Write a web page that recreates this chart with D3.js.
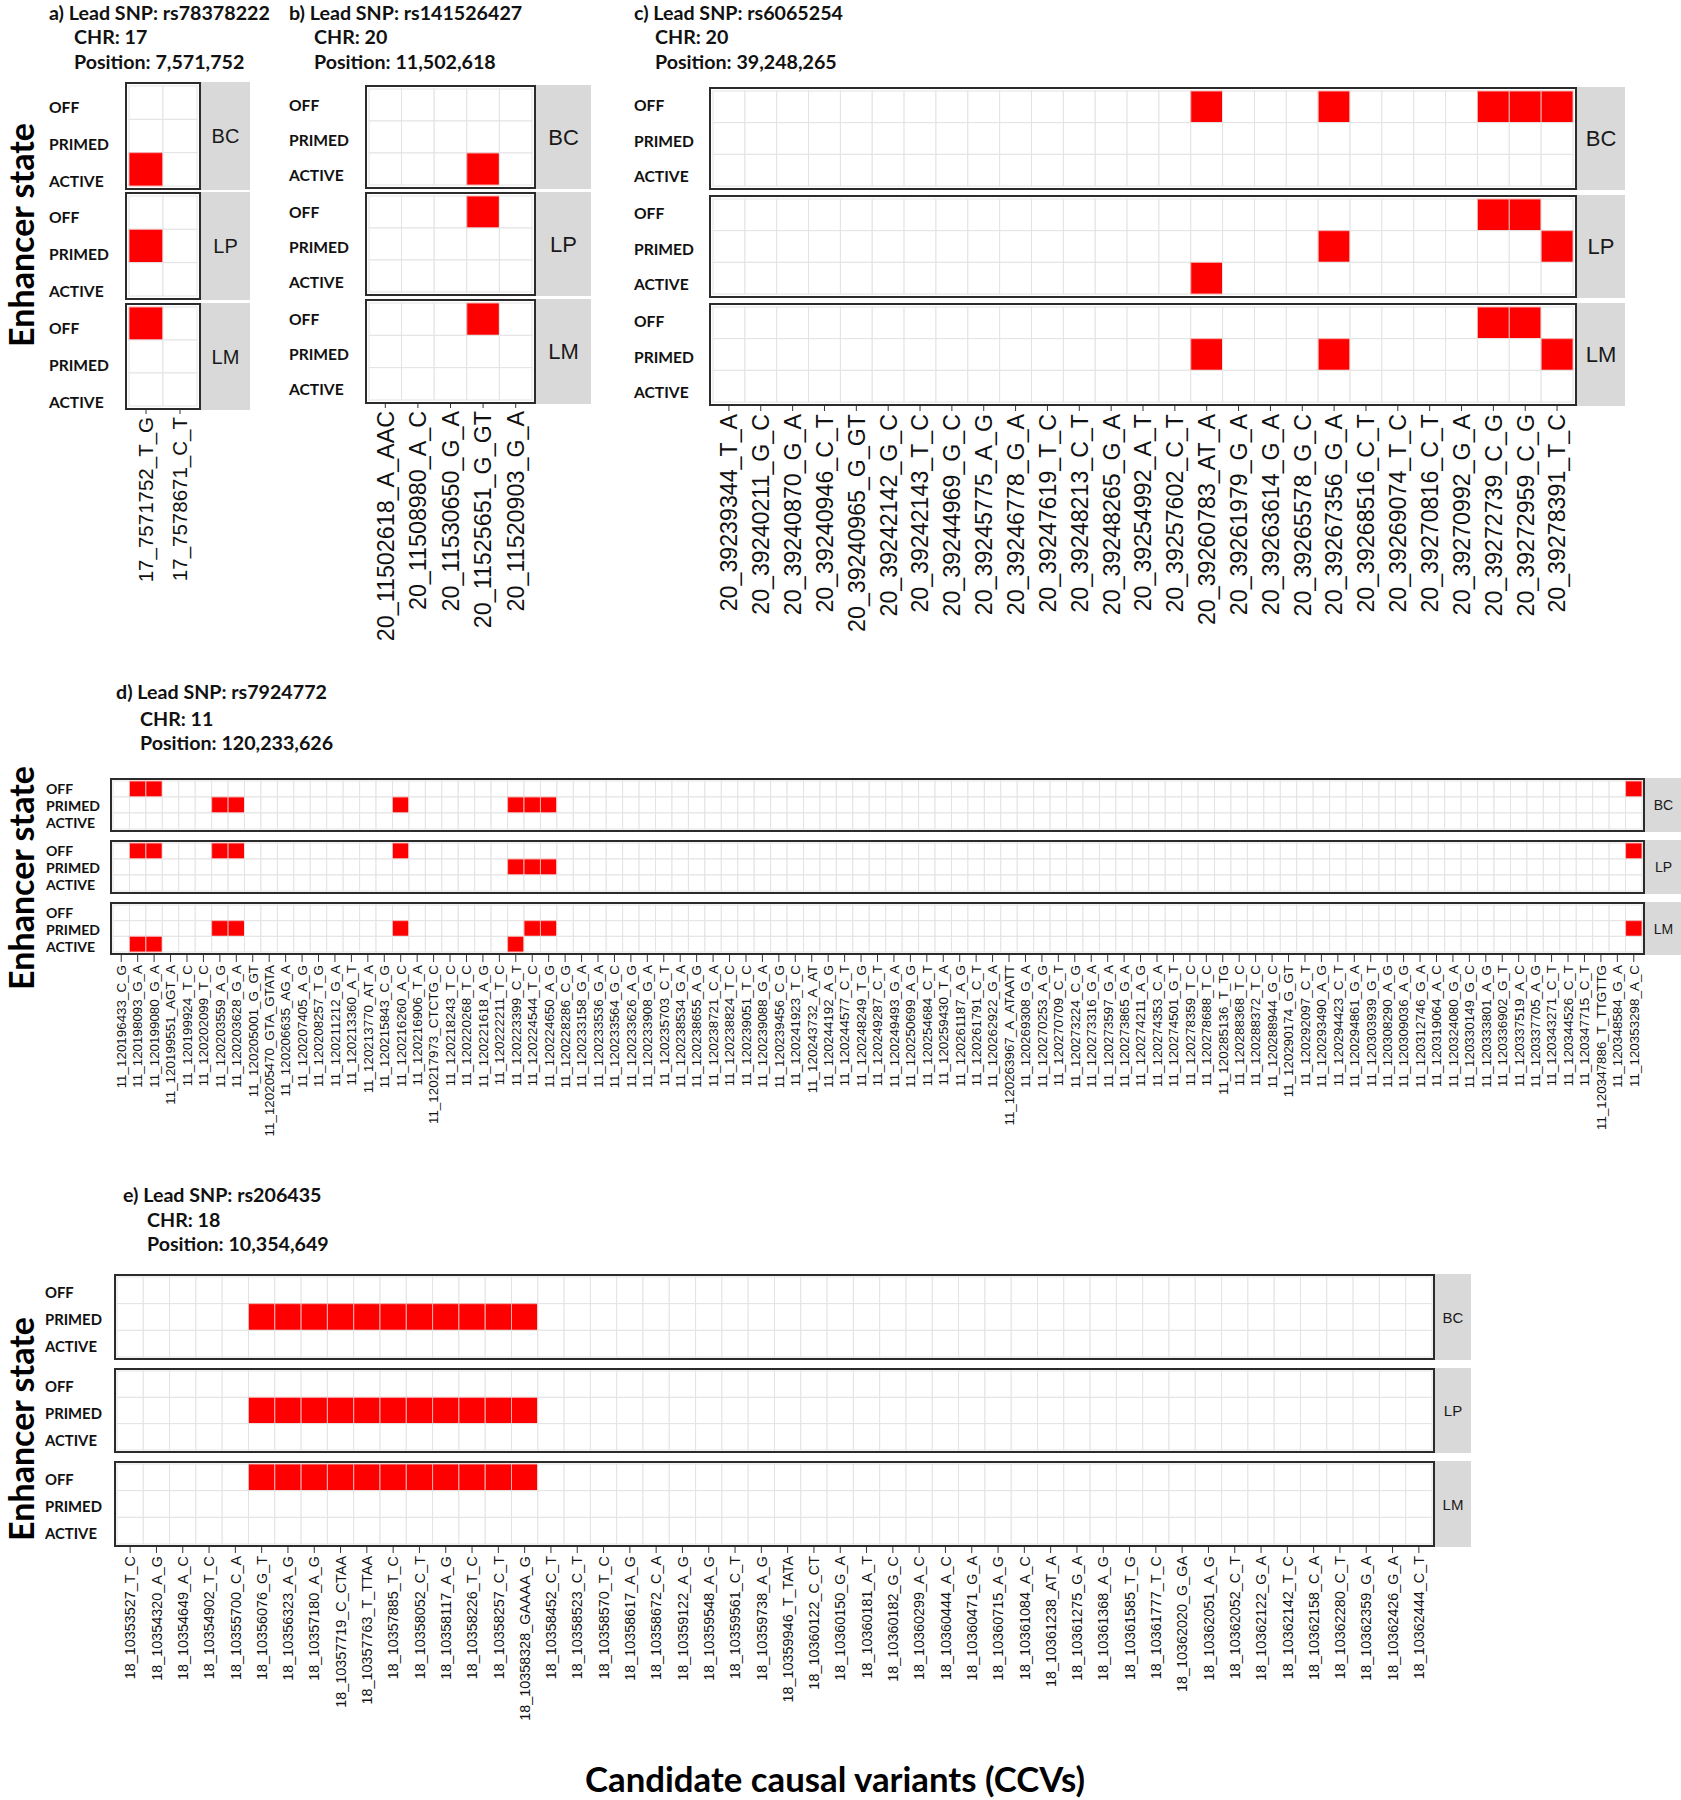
<!DOCTYPE html>
<html><head><meta charset="utf-8">
<script src="https://cdn.jsdelivr.net/npm/d3@7"></script>
<style>body{margin:0;background:#fff} svg{display:block}</style>
</head><body><svg id="fig" width="1681" height="1800"></svg>
<script>
// ---------------- DATA ----------------
const states = ["OFF", "PRIMED", "ACTIVE"];
const cellTypes = ["BC", "LP", "LM"];

// Panel a
const aTitle = ["a) Lead SNP: rs78378222", "CHR: 17", "Position: 7,571,752"];
const aVariants = ["17_7571752_T_G", "17_7578671_C_T"];
const aBC = [["17_7571752_T_G", "ACTIVE"]];
const aLP = [["17_7571752_T_G", "PRIMED"]];
const aLM = [["17_7571752_T_G", "OFF"]];

// Panel b
const bTitle = ["b) Lead SNP: rs141526427", "CHR: 20", "Position: 11,502,618"];
const bVariants = ["20_11502618_A_AAC", "20_11508980_A_C", "20_11530650_G_A", "20_11525651_G_GT", "20_11520903_G_A"];
const bBC = [["20_11525651_G_GT", "ACTIVE"]];
const bLP = [["20_11525651_G_GT", "OFF"]];
const bLM = [["20_11525651_G_GT", "OFF"]];

// Panel c
const cTitle = ["c) Lead SNP: rs6065254", "CHR: 20", "Position: 39,248,265"];
const cVariants = ["20_39239344_T_A", "20_39240211_G_C", "20_39240870_G_A", "20_39240946_C_T", "20_39240965_G_GT",
  "20_39242142_G_C", "20_39242143_T_C", "20_39244969_G_C", "20_39245775_A_G", "20_39246778_G_A", "20_39247619_T_C",
  "20_39248213_C_T", "20_39248265_G_A", "20_39254992_A_T", "20_39257602_C_T", "20_39260783_AT_A", "20_39261979_G_A",
  "20_39263614_G_A", "20_39265578_G_C", "20_39267356_G_A", "20_39268516_C_T", "20_39269074_T_C", "20_39270816_C_T",
  "20_39270992_G_A", "20_39272739_C_G", "20_39272959_C_G", "20_39278391_T_C"];
const cBC = [["20_39260783_AT_A", "OFF"], ["20_39267356_G_A", "OFF"], ["20_39272739_C_G", "OFF"], ["20_39272959_C_G", "OFF"], ["20_39278391_T_C", "OFF"]];
const cLP = [["20_39260783_AT_A", "ACTIVE"], ["20_39267356_G_A", "PRIMED"], ["20_39272739_C_G", "OFF"], ["20_39272959_C_G", "OFF"], ["20_39278391_T_C", "PRIMED"]];
const cLM = [["20_39260783_AT_A", "PRIMED"], ["20_39267356_G_A", "PRIMED"], ["20_39272739_C_G", "OFF"], ["20_39272959_C_G", "OFF"], ["20_39278391_T_C", "PRIMED"]];

// Panel d
const dTitle = ["d) Lead SNP: rs7924772", "CHR: 11", "Position: 120,233,626"];
const dVariants = ["11_120196433_C_G", "11_120198093_G_A", "11_120199080_G_A", "11_120199551_AGT_A", "11_120199924_T_C",
  "11_120202099_T_C", "11_120203559_A_G", "11_120203628_G_A", "11_120205001_G_GT", "11_120205470_GTA_GTATA",
  "11_120206635_AG_A", "11_120207405_A_G", "11_120208257_T_G", "11_120211212_G_A", "11_120213360_A_T",
  "11_120213770_AT_A", "11_120215843_C_G", "11_120216260_A_C", "11_120216906_T_A", "11_120217973_CTCTG_C",
  "11_120218243_T_C", "11_120220268_T_C", "11_120221618_A_G", "11_120222211_T_C", "11_120223399_C_T",
  "11_120224544_T_C", "11_120224650_A_G", "11_120228286_C_G", "11_120233158_G_A", "11_120233536_G_A",
  "11_120233564_G_C", "11_120233626_A_G", "11_120233908_G_A", "11_120235703_C_T", "11_120238534_G_A",
  "11_120238655_A_G", "11_120238721_C_A", "11_120238824_T_C", "11_120239051_T_C", "11_120239088_G_A",
  "11_120239456_C_G", "11_120241923_T_C", "11_120243732_A_AT", "11_120244192_A_G", "11_120244577_C_T",
  "11_120248249_T_G", "11_120249287_C_T", "11_120249493_G_A", "11_120250699_A_G", "11_120254684_C_T",
  "11_120259430_T_A", "11_120261187_A_G", "11_120261791_C_T", "11_120262922_G_A", "11_120263967_A_ATAATT",
  "11_120269308_G_A", "11_120270253_A_G", "11_120270709_C_T", "11_120273224_C_G", "11_120273316_G_A",
  "11_120273597_G_A", "11_120273865_G_A", "11_120274211_A_G", "11_120274353_C_A", "11_120274501_G_T",
  "11_120278359_T_C", "11_120278688_T_C", "11_120285136_T_TG", "11_120288368_T_C", "11_120288372_T_C",
  "11_120288944_G_C", "11_120290174_G_GT", "11_120292097_C_T", "11_120293490_A_G", "11_120294423_C_T",
  "11_120294861_G_A", "11_120303939_G_T", "11_120308290_A_G", "11_120309036_A_G", "11_120312746_G_A",
  "11_120319064_A_C", "11_120324080_G_A", "11_120330149_G_C", "11_120333801_A_G", "11_120336902_G_T",
  "11_120337519_A_C", "11_120337705_A_G", "11_120343271_C_T", "11_120344526_C_T", "11_120347715_C_T",
  "11_120347886_T_TTGTTG", "11_120348584_G_A", "11_120353298_A_C"];
const dBC = [["11_120198093_G_A", "OFF"], ["11_120199080_G_A", "OFF"], ["11_120203559_A_G", "PRIMED"], ["11_120203628_G_A", "PRIMED"],
  ["11_120216260_A_C", "PRIMED"], ["11_120223399_C_T", "PRIMED"], ["11_120224544_T_C", "PRIMED"], ["11_120224650_A_G", "PRIMED"],
  ["11_120353298_A_C", "OFF"]];
const dLP = [["11_120198093_G_A", "OFF"], ["11_120199080_G_A", "OFF"], ["11_120203559_A_G", "OFF"], ["11_120203628_G_A", "OFF"],
  ["11_120216260_A_C", "OFF"], ["11_120223399_C_T", "PRIMED"], ["11_120224544_T_C", "PRIMED"], ["11_120224650_A_G", "PRIMED"],
  ["11_120353298_A_C", "OFF"]];
const dLM = [["11_120198093_G_A", "ACTIVE"], ["11_120199080_G_A", "ACTIVE"], ["11_120203559_A_G", "PRIMED"], ["11_120203628_G_A", "PRIMED"],
  ["11_120216260_A_C", "PRIMED"], ["11_120223399_C_T", "ACTIVE"], ["11_120224544_T_C", "PRIMED"], ["11_120224650_A_G", "PRIMED"],
  ["11_120353298_A_C", "PRIMED"]];

// Panel e
const eTitle = ["e) Lead SNP: rs206435", "CHR: 18", "Position: 10,354,649"];
const eVariants = ["18_10353527_T_C", "18_10354320_A_G", "18_10354649_A_C", "18_10354902_T_C", "18_10355700_C_A",
  "18_10356076_G_T", "18_10356323_A_G", "18_10357180_A_G", "18_10357719_C_CTAA", "18_10357763_T_TTAA",
  "18_10357885_T_C", "18_10358052_C_T", "18_10358117_A_G", "18_10358226_T_C", "18_10358257_C_T",
  "18_10358328_GAAAA_G", "18_10358452_C_T", "18_10358523_C_T", "18_10358570_T_C", "18_10358617_A_G",
  "18_10358672_C_A", "18_10359122_A_G", "18_10359548_A_G", "18_10359561_C_T", "18_10359738_A_G",
  "18_10359946_T_TATA", "18_10360122_C_CT", "18_10360150_G_A", "18_10360181_A_T", "18_10360182_G_C",
  "18_10360299_A_C", "18_10360444_A_C", "18_10360471_G_A", "18_10360715_A_G", "18_10361084_A_C",
  "18_10361238_AT_A", "18_10361275_G_A", "18_10361368_A_G", "18_10361585_T_G", "18_10361777_T_C",
  "18_10362020_G_GA", "18_10362051_A_G", "18_10362052_C_T", "18_10362122_G_A", "18_10362142_T_C",
  "18_10362158_C_A", "18_10362280_C_T", "18_10362359_G_A", "18_10362426_G_A", "18_10362444_C_T"];
const eActiveVariants = ["18_10356076_G_T", "18_10356323_A_G", "18_10357180_A_G", "18_10357719_C_CTAA", "18_10357763_T_TTAA",
  "18_10357885_T_C", "18_10358052_C_T", "18_10358117_A_G", "18_10358226_T_C", "18_10358257_C_T", "18_10358328_GAAAA_G"];
const eBC = eActiveVariants.map(v => [v, "PRIMED"]);
const eLP = eActiveVariants.map(v => [v, "PRIMED"]);
const eLM = eActiveVariants.map(v => [v, "OFF"]);

const yTitle = "Enhancer state";
const xTitle = "Candidate causal variants (CCVs)";

// ---------------- LAYOUT ----------------
const panels = [
  { title: aTitle, variants: aVariants, data: [aBC, aLP, aLM], x0: 126, x1: 200,
    facets: [[83, 189], [193, 299], [304, 409]], stripW: 49, stripFont: 20, tickFont: 20.5, inset: 3,
    titleX: 49, titleY: [12, 36, 61], indent: 25, rowX: 49, rowFirst: 24, rowStep: 37, labGap: 7 },
  { title: bTitle, variants: bVariants, data: [bBC, bLP, bLM], x0: 366, x1: 535,
    facets: [[86, 188], [193, 295], [300, 403]], stripW: 55, stripFont: 22, tickFont: 23.3, inset: 3,
    titleX: 289, titleY: [12, 36, 61], indent: 25, rowX: 289, rowFirst: 19, rowStep: 35, labGap: 7 },
  { title: cTitle, variants: cVariants, data: [cBC, cLP, cLM], x0: 710, x1: 1576,
    facets: [[88, 189], [196, 297], [304, 405]], stripW: 48, stripFont: 22, tickFont: 23.2, inset: 3,
    titleX: 634, titleY: [12, 36, 61], indent: 21, rowX: 634, rowFirst: 17, rowStep: 35.5, labGap: 8 },
  { title: dTitle, variants: dVariants, data: [dBC, dLP, dLM], x0: 111, x1: 1644,
    facets: [[779, 831], [841, 893], [903, 954]], stripW: 37, stripFont: 14, tickFont: 13.4, inset: 2,
    titleX: 116, titleY: [691, 718, 742], indent: 24, rowX: 46, rowFirst: 9, rowStep: 17, labGap: 10, rowFontScale: 0.9 },
  { title: eTitle, variants: eVariants, data: [eBC, eLP, eLM], x0: 115, x1: 1434,
    facets: [[1275, 1359], [1369, 1452], [1462, 1546]], stripW: 36, stripFont: 15, tickFont: 14.4, inset: 2,
    titleX: 123, titleY: [1194, 1219, 1243], indent: 24, rowX: 45, rowFirst: 17, rowStep: 27, labGap: 9, rowFontScale: 0.95 }
];

const svg = d3.select("#fig");
const boldFont = "Lato, 'Open Sans', sans-serif";
const plotFont = "'Liberation Sans', Arial, sans-serif";

function fit(text, family, weight, target) {
  const t = svg.append("text").attr("font-family", family).attr("font-weight", weight)
    .attr("font-size", 20).text(text);
  const w = t.node().getComputedTextLength();
  t.remove();
  return 20 * target / w;
}
const titleSize = fit(aTitle[0], boldFont, 700, 221);
const rowSize = fit("PRIMED", boldFont, 700, 60);
const ySize = fit(yTitle, boldFont, 700, 224);
const xSize = fit(xTitle, boldFont, 700, 500);

panels.forEach(p => {
  const g = svg.append("g");
  // titles
  p.title.forEach((t, i) => {
    g.append("text").attr("x", p.titleX + (i ? p.indent : 0)).attr("y", p.titleY[i])
      .attr("dominant-baseline", "central").attr("font-family", boldFont).attr("font-weight", 700)
      .attr("font-size", titleSize).attr("fill", "#111").text(t);
  });
  const x = d3.scaleBand().domain(p.variants).range([p.x0 + p.inset, p.x1 - p.inset]).padding(0);
  p.facets.forEach((f, fi) => {
    const y = d3.scaleBand().domain(states).range([f[0] + p.inset, f[1] - p.inset]).padding(0);
    const red = new Set(p.data[fi].map(d => d[0] + "|" + d[1]));
    const cells = [];
    p.variants.forEach(v => states.forEach(s => cells.push({ v, s, on: red.has(v + "|" + s) })));
    g.append("g").selectAll("rect").data(cells).join("rect")
      .attr("x", d => x(d.v)).attr("y", d => y(d.s))
      .attr("width", x.bandwidth()).attr("height", y.bandwidth())
      .attr("fill", d => d.on ? "#FF0000" : "#FFFFFF")
      .attr("stroke", d => d.on ? "#F2B0B0" : "#E3E3E3").attr("stroke-width", 1);
    // border
    g.append("rect").attr("x", p.x0).attr("y", f[0]).attr("width", p.x1 - p.x0).attr("height", f[1] - f[0])
      .attr("fill", "none").attr("stroke", "#2b2b2b").attr("stroke-width", 2);
    // strip
    g.append("rect").attr("x", p.x1 + 1).attr("y", f[0] - 1).attr("width", p.stripW).attr("height", f[1] - f[0] + 2)
      .attr("fill", "#D9D9D9");
    g.append("text").attr("x", p.x1 + 1 + p.stripW / 2).attr("y", (f[0] + f[1]) / 2)
      .attr("text-anchor", "middle").attr("dominant-baseline", "central")
      .attr("font-family", plotFont).attr("font-size", p.stripFont).attr("fill", "#1A1A1A")
      .text(cellTypes[fi]);
    // row labels
    states.forEach((s, si) => {
      g.append("text").attr("x", p.rowX).attr("y", f[0] + p.rowFirst + si * p.rowStep)
        .attr("dominant-baseline", "central").attr("font-family", boldFont).attr("font-weight", 700)
        .attr("font-size", rowSize * (p.rowFontScale || 1)).attr("fill", "#111").text(s);
    });
  });
  // x axis
  const bottom = p.facets[2][1];
  const ax = g.append("g").attr("transform", `translate(0,${bottom + 1})`)
    .call(d3.axisBottom(x).tickSize(p.labGap - 3).tickPadding(3));
  ax.select(".domain").remove();
  ax.selectAll(".tick line").attr("stroke", "#333").attr("stroke-width", 1);
  ax.selectAll(".tick text")
    .attr("font-family", plotFont).attr("font-size", p.tickFont).attr("fill", "#111")
    .attr("transform", "rotate(-90)").attr("text-anchor", "end")
    .attr("x", -p.labGap).attr("y", 0).attr("dy", "0.36em");
});

// y-axis titles
[235, 878, 1429].forEach(cy => {
  svg.append("text").attr("transform", `translate(20,${cy}) rotate(-90)`)
    .attr("text-anchor", "middle").attr("dominant-baseline", "central")
    .attr("font-family", boldFont).attr("font-weight", 700).attr("font-size", ySize)
    .attr("fill", "#000").text(yTitle);
});
// x title
svg.append("text").attr("x", 835).attr("y", 1778).attr("text-anchor", "middle")
  .attr("dominant-baseline", "central").attr("font-family", boldFont).attr("font-weight", 700)
  .attr("font-size", xSize).attr("fill", "#000").text(xTitle);
</script>
</body></html>
